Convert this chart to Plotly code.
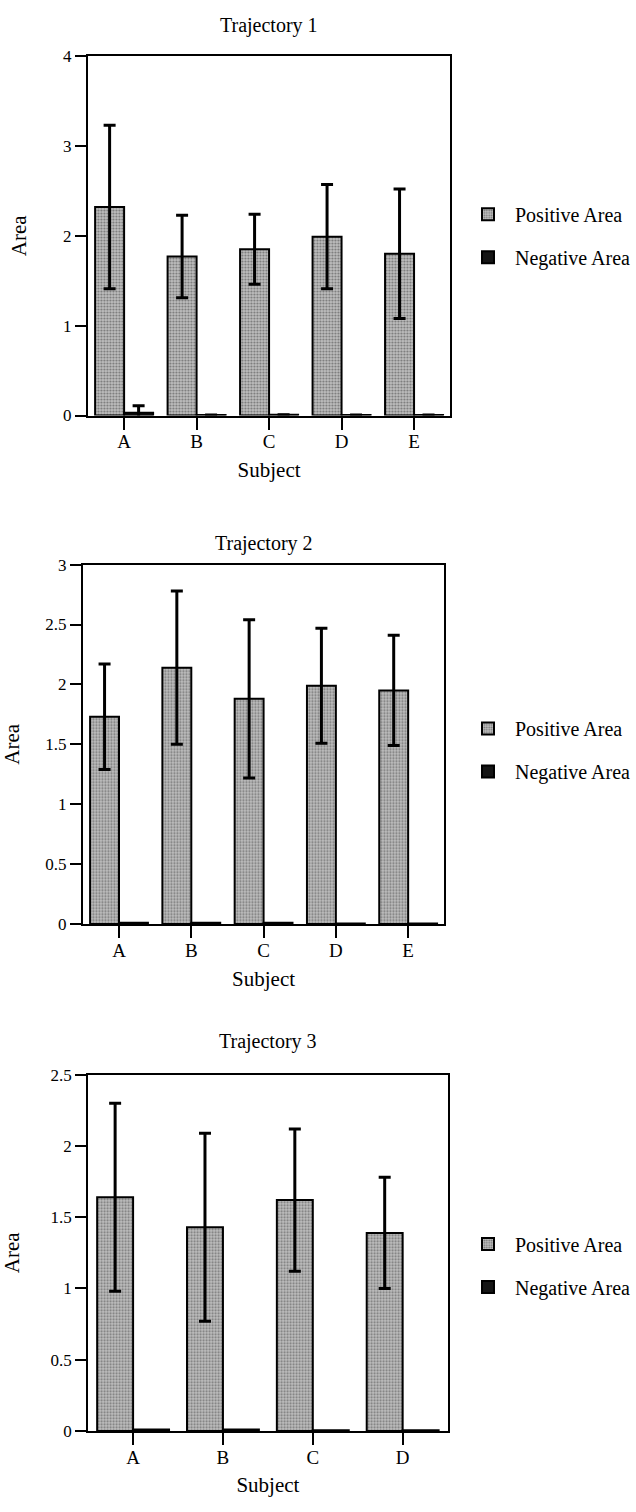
import plotly.graph_objects as go

# ---------------- data ----------------
subjects_1 = ["A", "B", "C", "D", "E"]
pos_1 = [2.32, 1.77, 1.85, 1.99, 1.80]
pos_err_1 = [0.91, 0.46, 0.39, 0.58, 0.72]
neg_1 = [0.03, 0.005, 0.01, 0.005, 0.005]
neg_err_1 = [0.08, None, None, None, None]

subjects_2 = ["A", "B", "C", "D", "E"]
pos_2 = [1.73, 2.14, 1.88, 1.99, 1.95]
pos_err_2 = [0.44, 0.64, 0.66, 0.48, 0.46]
neg_2 = [0.01, 0.01, 0.01, 0.005, 0.005]

subjects_3 = ["A", "B", "C", "D"]
pos_3 = [1.64, 1.43, 1.62, 1.39]
pos_err_3 = [0.66, 0.66, 0.50, 0.39]
neg_3 = [0.01, 0.01, 0.005, 0.005]

titles = ["Trajectory 1", "Trajectory 2", "Trajectory 3"]
y_ranges = [[0, 4], [0, 3], [0, 2.5]]
y_dticks = [1, 0.5, 0.5]

# ---------------- layout helpers ----------------
W, H = 636, 1512
FONT = "Liberation Serif, Times New Roman, DejaVu Serif, serif"
POS_COLOR = "#a8a8a8"
NEG_COLOR = "#151515"

def px_x(v):
    return v / W

def px_y(v):
    return 1 - v / H

# pixel geometry of each panel: (left, right, top, bottom)
panels = [(88, 451, 47.7, 411.7), (83, 445, 562.7, 926.7), (88.3, 448.3, 1079.3, 1440)]
legend_tops = [188, 709, 1231]
title_y = [17, 541, 1046]
ystandoff = [31, 21, 27]

fig = go.Figure()

datasets = [
    (subjects_1, pos_1, pos_err_1, neg_1, neg_err_1),
    (subjects_2, pos_2, pos_err_2, neg_2, None),
    (subjects_3, pos_3, pos_err_3, neg_3, None),
]

for i, (subs, pos, perr, neg, nerr) in enumerate(datasets):
    n = i + 1
    xa = "x" if n == 1 else f"x{n}"
    ya = "y" if n == 1 else f"y{n}"
    lg = "legend" if n == 1 else f"legend{n}"
    fig.add_trace(go.Bar(
        x=subs, y=pos, name="Positive Area", xaxis=xa, yaxis=ya, legend=lg,
        legendgroup=f"p{n}",
        marker=dict(color=POS_COLOR, line=dict(color="black", width=2),
                    pattern=dict(shape=".", fgcolor="#2a2a2a", bgcolor="#c0c0c0",
                                 size=3, solidity=0.4)),
        error_y=dict(type="data", array=perr, symmetric=True, color="black",
                     thickness=3, width=6),
    ))
    negkw = {}
    if nerr is not None:
        negkw["error_y"] = dict(type="data", array=nerr, symmetric=True,
                                color="black", thickness=3, width=6)
    fig.add_trace(go.Bar(
        x=subs, y=neg, name="Negative Area", xaxis=xa, yaxis=ya, legend=lg,
        legendgroup=f"n{n}",
        marker=dict(color=NEG_COLOR, line=dict(color="black", width=2)),
        **negkw,
    ))

layout = dict(
    width=W, height=H,
    margin=dict(l=0, r=0, t=0, b=0),
    paper_bgcolor="white", plot_bgcolor="white",
    font=dict(family=FONT, size=20, color="black"),
    barmode="group", bargap=0.2, bargroupgap=0.0,
    showlegend=True,
)

annotations = []
for i, (l, r, t, b) in enumerate(panels):
    n = i + 1
    xk = "xaxis" if n == 1 else f"xaxis{n}"
    yk = "yaxis" if n == 1 else f"yaxis{n}"
    ya = "y" if n == 1 else f"y{n}"
    xa = "x" if n == 1 else f"x{n}"
    layout[xk] = dict(
        domain=[px_x(l), px_x(r)], anchor=ya,
        type="category",
        showline=True, linecolor="black", linewidth=2, mirror=True,
        ticks="outside", ticklen=12, tickwidth=2, tickcolor="black",
        tickfont=dict(family=FONT, size=19),
        ticklabelstandoff=-4,
        showgrid=False, zeroline=False,
        title=dict(text="Subject", font=dict(family=FONT, size=21), standoff=11),
        fixedrange=True,
    )
    layout[yk] = dict(
        domain=[px_y(b), px_y(t)], anchor=xa,
        range=y_ranges[i], dtick=y_dticks[i], tick0=0,
        showline=True, linecolor="black", linewidth=2, mirror=True,
        ticks="outside", ticklen=11, tickwidth=1.5, tickcolor="black",
        tickfont=dict(family=FONT, size=17),
        showgrid=False, zeroline=False,
        title=dict(text="Area", font=dict(family=FONT, size=21), standoff=ystandoff[i]),
        fixedrange=True,
    )
    lg = "legend" if n == 1 else f"legend{n}"
    layout[lg] = dict(
        x=px_x(462), y=px_y(legend_tops[i]), xanchor="left", yanchor="top",
        font=dict(family=FONT, size=20, color="black"),
        bgcolor="rgba(0,0,0,0)", borderwidth=0,
        tracegroupgap=14, itemwidth=44,
    )
    annotations.append(dict(
        text=titles[i], xref="paper", yref="paper",
        x=px_x((l + r) / 2), y=px_y(title_y[i]),
        xanchor="center", yanchor="middle", showarrow=False,
        font=dict(family=FONT, size=20, color="black"),
    ))

layout["annotations"] = annotations
fig.update_layout(**layout)
fig.write_html("out.html")
